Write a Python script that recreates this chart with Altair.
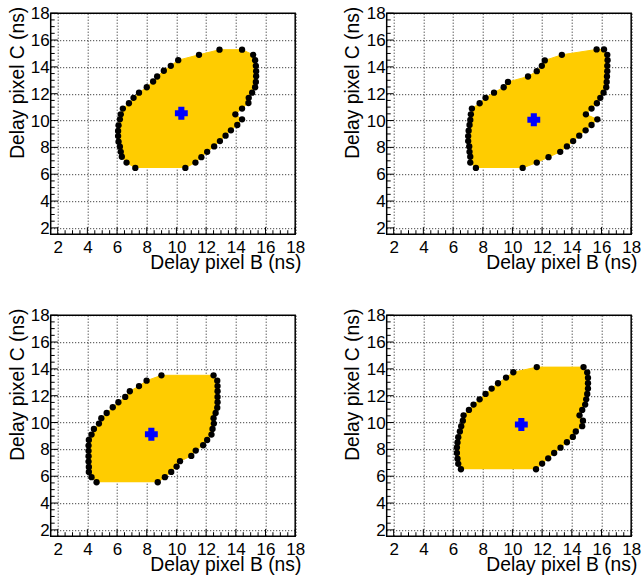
import altair as alt
import pandas as pd

FONT = "Liberation Sans"
YELLOW = "#ffcc00"
BLUE = "#0000ff"

# ---------------- data ----------------
# Panel 1 (top-left): boundary points, in order around the region
p1_b = [7.23, 6.64, 6.32, 6.25, 6.19, 6.10, 6.07, 6.07, 6.10, 6.19, 6.25, 6.39, 6.80, 7.11,
        7.48, 8.00, 8.43, 8.70, 9.15, 9.62, 10.12, 11.52, 12.90, 14.42, 15.17, 15.30, 15.35,
        15.37, 15.37, 15.35, 15.30, 15.10, 14.87, 14.85, 14.42, 13.97, 14.42, 14.10, 13.67,
        13.31, 12.93, 12.54, 12.07, 11.68, 11.28, 10.60]
p1_c = [6.47, 6.87, 7.30, 7.67, 8.05, 8.42, 8.84, 9.22, 9.64, 10.09, 10.46, 10.89, 11.29, 11.69,
        12.08, 12.48, 12.91, 13.28, 13.71, 14.08, 14.50, 14.90, 15.28, 15.28, 14.90, 14.50, 14.08,
        13.68, 13.31, 12.88, 12.48, 12.08, 11.69, 11.31, 10.89, 10.46, 10.09, 9.67, 9.27,
        8.87, 8.47, 8.07, 7.67, 7.27, 6.87, 6.47]
p1_center_b = [10.33]
p1_center_c = [10.54]

# Panel 2 (top-right)
p2_b = [7.54, 7.16, 7.16, 7.11, 7.09, 7.02, 7.02, 7.05, 7.11, 7.16, 7.20, 7.27, 7.79, 8.19,
        8.76, 9.41, 9.70, 11.05, 11.64, 11.98, 12.18, 13.33, 15.67, 16.17, 16.39, 16.41, 16.39,
        16.39, 16.37, 16.35, 16.32, 16.14, 15.92, 15.69, 15.33, 14.95, 15.72, 15.33, 14.93,
        14.50, 14.09, 13.67, 13.22, 12.43, 11.64, 10.69]
p2_c = [6.47, 6.87, 7.30, 7.67, 8.07, 8.47, 8.84, 9.24, 9.67, 10.04, 10.46, 10.89, 11.29, 11.69,
        12.08, 12.48, 12.88, 13.28, 13.68, 14.08, 14.48, 14.90, 15.30, 15.30, 14.90, 14.50, 14.08,
        13.68, 13.28, 12.88, 12.48, 12.08, 11.69, 11.29, 10.89, 10.46, 10.09, 9.67, 9.27,
        8.87, 8.47, 8.07, 7.67, 7.27, 6.87, 6.47]
p2_center_b = [11.44]
p2_center_c = [10.06]

# Panel 3 (bottom-left)
p3_b = [4.62, 4.28, 4.10, 4.10, 4.08, 4.08, 4.08, 4.08, 4.10, 4.28, 4.44, 4.78, 4.94, 5.30,
        5.71, 6.09, 6.55, 6.86, 7.48, 7.99, 8.99, 12.50, 12.75, 12.77, 12.77, 12.77, 12.77,
        12.75, 12.64, 12.50, 12.52, 12.43, 12.36, 12.07, 11.80, 11.30, 11.00, 10.24, 10.01,
        9.65, 9.22, 8.74]
p3_c = [5.55, 5.93, 6.32, 6.69, 7.09, 7.49, 7.89, 8.28, 8.70, 9.10, 9.52, 9.92, 10.32, 10.71,
        11.14, 11.51, 11.91, 12.33, 12.72, 13.12, 13.52, 13.52, 13.12, 12.72, 12.33, 11.91, 11.51,
        11.11, 10.71, 10.32, 9.92, 9.52, 9.10, 8.70, 8.31, 7.91, 7.51, 7.12, 6.72,
        6.32, 5.93, 5.55]
p3_center_b = [8.31]
p3_center_c = [9.13]

# Panel 4 (bottom-right)
p4_b = [6.53, 6.35, 6.30, 6.26, 6.26, 6.30, 6.35, 6.46, 6.55, 6.66, 6.71, 7.07, 7.38, 7.79,
        8.19, 8.60, 9.03, 9.57, 10.06, 11.64, 14.79, 15.04, 15.09, 15.09, 15.09, 15.04, 14.97,
        14.90, 14.70, 14.52, 14.75, 14.70, 14.27, 14.07, 13.67, 13.24, 12.81, 12.41, 12.00, 11.59]
p4_c = [6.52, 6.92, 7.31, 7.73, 8.14, 8.51, 8.91, 9.33, 9.73, 10.14, 10.54, 10.94, 11.34, 11.73,
        12.13, 12.53, 12.93, 13.35, 13.75, 14.13, 14.13, 13.73, 13.33, 12.93, 12.53, 12.13, 11.73,
        11.34, 10.94, 10.54, 10.14, 9.73, 9.33, 8.93, 8.53, 8.13, 7.73, 7.33, 6.94, 6.52]
p4_center_b = [10.60]
p4_center_c = [9.85]

major_ticks = [2, 4, 6, 8, 10, 12, 14, 16, 18]
minor_ticks = [2.5, 3, 3.5, 4.5, 5, 5.5, 6.5, 7, 7.5, 8.5, 9, 9.5, 10.5, 11, 11.5,
               12.5, 13, 13.5, 14.5, 15, 15.5, 16.5, 17, 17.5]

X_TITLE = "Delay pixel B (ns)"
Y_TITLE = "Delay pixel C (ns)"

# ---------------- layout ----------------
W = 244.5
H = 221
DOMAIN = [1.53, 18]
LABEL_SIZE = 17
TITLE_SIZE = 19.3


def xscale():
    return alt.Scale(domain=DOMAIN, nice=False, zero=False)


def yscale():
    return alt.Scale(domain=DOMAIN, nice=False, zero=False)


x_axis = alt.Axis(
    values=major_ticks, format="d", title=X_TITLE,
    grid=True, gridDash=[1, 2], gridColor="black", gridOpacity=0.9, gridWidth=1,
    domain=False, ticks=False, tickSize=0,
    labelFont=FONT, labelFontSize=LABEL_SIZE, labelColor="black", labelPadding=5,
    labelFlush=False, labelOverlap=False,
    titleFont=FONT, titleFontSize=TITLE_SIZE, titleFontWeight="normal", titleColor="black",
    titleAlign="right", titleAnchor="end", titleBaseline="alphabetic",
    titleX=W + 5.7, titleY=34.2,
)

y_axis = alt.Axis(
    values=major_ticks, format="d", title=Y_TITLE,
    grid=True, gridDash=[1, 2], gridColor="black", gridOpacity=0.9, gridWidth=1,
    domain=False, ticks=False, tickSize=0,
    labelFont=FONT, labelFontSize=LABEL_SIZE, labelColor="black", labelPadding=1.5,
    labelOffset=0.5, labelFlush=False, labelOverlap=False,
    titleFont=FONT, titleFontSize=TITLE_SIZE, titleFontWeight="normal", titleColor="black",
    titleAngle=270, titleAlign="right", titleAnchor="end", titleBaseline="alphabetic",
    titleX=-27.7, titleY=-7,
)


def X(field):
    return alt.X(field, scale=xscale(), axis=x_axis, title=X_TITLE)


def Y(field):
    return alt.Y(field, scale=yscale(), axis=y_axis, title=Y_TITLE)


def panel(bs, cs, cb, cc):
    df = pd.DataFrame({"b": bs, "c": cs, "i": list(range(len(bs)))})
    cen = pd.DataFrame({"b": cb, "c": cc})
    maj = pd.DataFrame({"t": major_ticks})
    mnr = pd.DataFrame({"t": minor_ticks})

    poly = alt.Chart(df).mark_line(
        fill=YELLOW, stroke=YELLOW, strokeWidth=1, interpolate="linear"
    ).encode(
        x=X("b:Q"), y=Y("c:Q"), order=alt.Order("i:Q"),
    )
    dots = alt.Chart(df).mark_circle(size=40, color="black", opacity=1).encode(
        x=X("b:Q"), y=Y("c:Q"),
    )
    cross = alt.Chart(cen).mark_point(
        shape="cross", filled=True, size=127, fill=BLUE, stroke=BLUE,
        strokeWidth=1.6, opacity=1,
    ).encode(
        x=X("b:Q"), y=Y("c:Q"),
    )
    xt_major = alt.Chart(maj).mark_rule(color="black", strokeWidth=1).encode(
        x=X("t:Q"), y=alt.value(H), y2=alt.value(H - 7),
    )
    xt_minor = alt.Chart(mnr).mark_rule(color="black", strokeWidth=1).encode(
        x=X("t:Q"), y=alt.value(H), y2=alt.value(H - 4),
    )
    yt_major = alt.Chart(maj).mark_rule(color="black", strokeWidth=1).encode(
        y=Y("t:Q"), x=alt.value(0), x2=alt.value(7),
    )
    yt_minor = alt.Chart(mnr).mark_rule(color="black", strokeWidth=1).encode(
        y=Y("t:Q"), x=alt.value(0), x2=alt.value(4),
    )
    return alt.layer(poly, xt_major, xt_minor, yt_major, yt_minor, dots, cross).properties(
        width=W, height=H
    )


c1 = panel(p1_b, p1_c, p1_center_b, p1_center_c)
c2 = panel(p2_b, p2_c, p2_center_b, p2_center_c)
c3 = panel(p3_b, p3_c, p3_center_b, p3_center_c)
c4 = panel(p4_b, p4_c, p4_center_b, p4_center_c)

chart = alt.concat(
    c1, c2, c3, c4, columns=2, spacing={"row": 81, "column": 91}, bounds="flush"
).properties(
    padding={"left": 6.7, "top": 3.2, "right": 0, "bottom": 0},
    background="white",
).configure_view(
    stroke="black", strokeWidth=1.5
)

chart.save("out.html", embed_options={"renderer": "svg", "actions": False})
